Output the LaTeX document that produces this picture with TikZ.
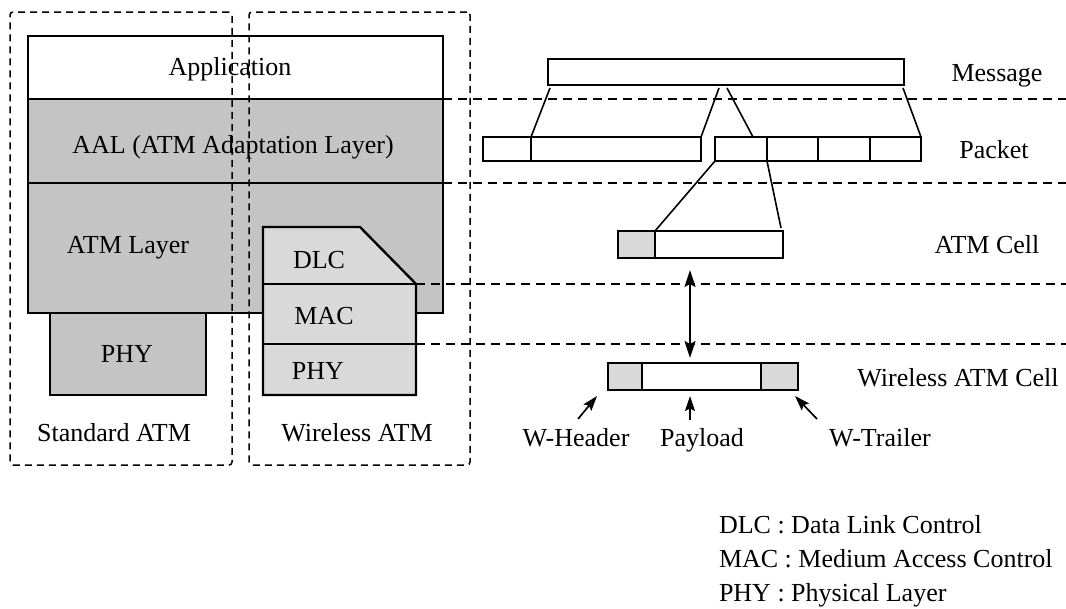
\documentclass[tikz,border=0pt]{standalone}
\usepackage{fontspec}
\setmainfont{Liberation Serif}
\usetikzlibrary{arrows.meta}
\definecolor{laygray}{gray}{0.77}
\definecolor{wlgray}{gray}{0.85}
\definecolor{hdrgray}{gray}{0.85}
\begin{document}
\begin{tikzpicture}[x=1pt,y=-1pt,
  font=\fontsize{26}{31}\selectfont,
  every node/.style={inner sep=0pt, outer sep=0pt, text height=18pt, text depth=6pt},
  blk/.style={draw, line width=2.4pt, anchor=north west},
  link/.style={line width=1.6pt},
  sepline/.style={line width=1.5pt, dash pattern=on 9pt off 6pt},
  frame/.style={draw, line width=1.5pt, dash pattern=on 7pt off 5pt, rounded corners=3pt, anchor=north west},
  dbl/.style={line width=1.7pt, {Stealth[length=17pt,width=11pt,inset=3pt]}-{Stealth[length=17pt,width=11pt,inset=3pt]}},
  tip/.style={line width=1.7pt, -{Stealth[length=15pt,width=10pt,inset=2.5pt]}},
  legend/.style={anchor=west}
]
\useasboundingbox (0,0) rectangle (1066,608);

% ---- protocol stacks ----
\node[blk, fill=white, minimum width=415pt, minimum height=63pt] (app) at (28,36) {};
\node (appt) at (230,69) {Application};
\node[blk, fill=laygray, minimum width=415pt, minimum height=84pt] (aal) at (28,99) {};
\node (aalt) at (233,147) {AAL (ATM Adaptation Layer)};
\node[blk, fill=laygray, minimum width=415pt, minimum height=130pt] (atm) at (28,183) {};
\node (atmt) at (128,247) {ATM Layer};
\node[blk, fill=laygray, minimum width=156pt, minimum height=82pt] (phys) at (50,313) {};
\node (physt) at (127,356) {PHY};

% wireless stack: DLC with a chamfered corner, MAC and PHY below
\draw[line width=2.4pt, fill=wlgray, line join=miter] (263,227) -- (360,227) -- (416,284) -- (416,395) -- (263,395) -- cycle;
\node[blk, minimum width=153pt, minimum height=60pt] (mac) at (263,284) {};
\node[blk, minimum width=153pt, minimum height=51pt] (phyw) at (263,344) {};
\node (dlct) at (319,262) {DLC};
\node (mact) at (324,318) {MAC};
\node (phywt) at (318,373) {PHY};

% layer boundaries carried across to the right
\coordinate (rim) at (1066,0);
\draw[sepline] (app.south east) -- (app.south east -| rim);
\draw[sepline] (aal.south east) -- (aal.south east -| rim);
\draw[sepline] (mac.north east) -- (mac.north east -| rim);
\draw[sepline] (mac.south east) -- (mac.south east -| rim);

% dashed groupings
\node[frame, minimum width=222pt, minimum height=453pt] (stdbox) at (10,12) {};
\node[frame, minimum width=221pt, minimum height=453pt] (wlbox) at (249,12) {};
\node (stdl) at (114,435) {Standard ATM};
\node (wll) at (357,435) {Wireless ATM};

% ---- data units ----
\node[blk, minimum width=356pt, minimum height=26pt] (msg) at (548,59) {};
\node (msgl) at (997,75) {Message};

\node[blk, minimum width=48pt, minimum height=24pt] (pa1) at (483,137) {};
\node[blk, minimum width=170pt, minimum height=24pt] (pa2) at (531,137) {};
\node[blk, minimum width=52pt, minimum height=24pt] (pb1) at (715,137) {};
\node[blk, minimum width=51pt, minimum height=24pt] (pb2) at (767,137) {};
\node[blk, minimum width=52pt, minimum height=24pt] (pb3) at (818,137) {};
\node[blk, minimum width=51pt, minimum height=24pt] (pb4) at (870,137) {};
\node (pktl) at (994,152) {Packet};

\draw[link] ([xshift=2pt,yshift=-3pt]msg.south west) -- (pa2.north west);
\draw[link] ([xshift=171pt,yshift=-3pt]msg.south west) -- (pa2.north east);
\draw[link] ([xshift=179pt,yshift=-3pt]msg.south west) -- ([xshift=-14pt]pb1.north east);
\draw[link] ([xshift=-1pt,yshift=-3pt]msg.south east) -- (pb4.north east);

\node[blk, fill=hdrgray, minimum width=37pt, minimum height=27pt] (ch) at (618,231) {};
\node[blk, minimum width=128pt, minimum height=27pt] (cb) at (655,231) {};
\node (celll) at (987,247) {ATM Cell};

\draw[link] (pb1.south west) -- (ch.north east);
\draw[link] (pb1.south east) -- ([xshift=-2pt,yshift=3pt]cb.north east);

\node[blk, fill=hdrgray, minimum width=34pt, minimum height=27pt] (wh) at (608,363) {};
\node[blk, minimum width=119pt, minimum height=27pt] (wp) at (642,363) {};
\node[blk, fill=hdrgray, minimum width=37pt, minimum height=27pt] (wt) at (761,363) {};
\node (wcl) at (958,380) {Wireless ATM Cell};

\coordinate (ax) at (690,0);
\draw[dbl, shorten <=12pt, shorten >=5pt] (cb.south -| ax) -- (wp.north -| ax);

% field names
\node (whl) at (576,440) {W-Header};
\node (payl) at (702,440) {Payload};
\node (wtl) at (880,440) {W-Trailer};
\coordinate (pt) at (ax |- payl.north);
\draw[tip] ([xshift=2pt,yshift=9pt]whl.north) -- ([xshift=-11pt,yshift=-6pt]wh.south west);
\draw[tip, shorten >=6pt] ([yshift=8pt]pt) -- (ax |- wp.south);
\draw[tip] ([xshift=-63pt,yshift=9pt]wtl.north) -- ([xshift=-3pt,yshift=-6pt]wt.south east);

% ---- legend ----
\node[legend] (lg1) at (719,527) {DLC : Data Link Control};
\node[legend] (lg2) at (719,561) {MAC : Medium Access Control};
\node[legend] (lg3) at (719,595) {PHY : Physical Layer};
\end{tikzpicture}
\end{document}
